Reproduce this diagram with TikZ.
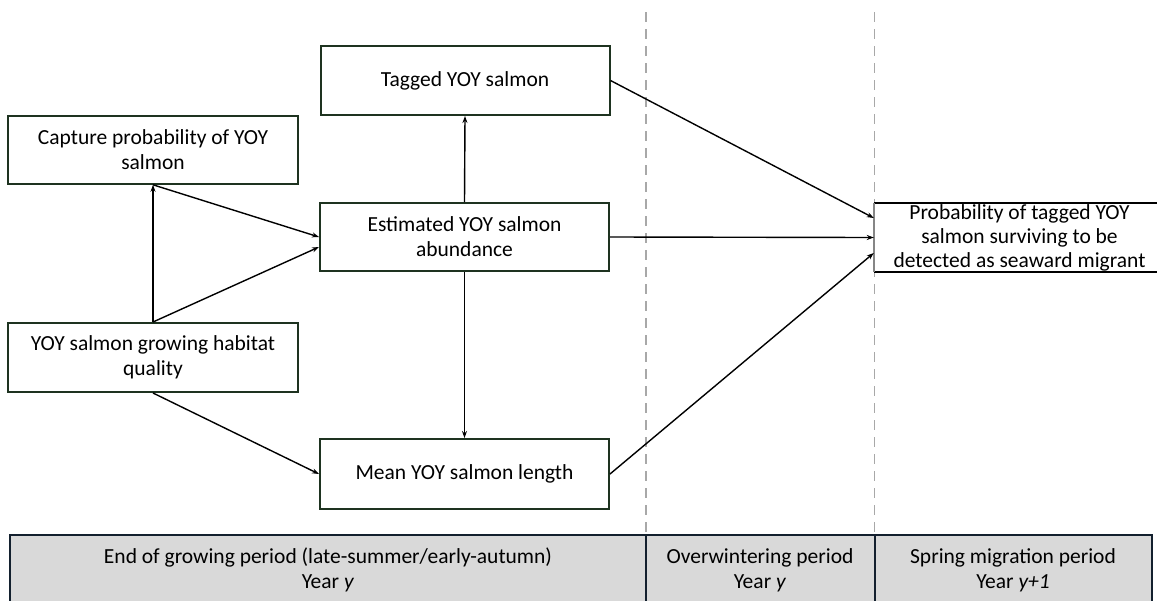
\documentclass[tikz,border=0pt]{standalone}
\usepackage{fontspec}
\setmainfont{Carlito}
\usetikzlibrary{arrows.meta}
\definecolor{boxgreen}{HTML}{1E3320}
\definecolor{bandfill}{HTML}{D9D9D9}
\definecolor{bandline}{HTML}{13202E}
\definecolor{dashgray}{HTML}{A8A8A8}
\begin{document}
\begin{tikzpicture}[x=1pt,y=-1pt,
  every node/.style={font=\fontsize{21.5}{25}\selectfont, inner sep=0pt},
  varbox/.style={draw=boxgreen, line width=2pt, minimum height=69pt, minimum width=289pt, align=center, fill=white},
  conn/.style={line width=1.4pt, -{Stealth[length=7pt,width=5pt]}},
  period/.style={dashgray, line width=1.6pt, dash pattern=on 10pt off 7pt},
  bandtext/.style={align=center}
]
\useasboundingbox (0,0) rectangle (1157,600);
% period dividers
\draw[period] (646,12) -- (646,535);
\draw[period] (874.5,12) -- (874.5,535);
% boxes
\node[varbox] (tagged) at (465,80.5) {Tagged YOY salmon};
\node[varbox, line width=1.6pt, minimum width=290pt, minimum height=68pt] (capture) at (153,150) {Capture probability of YOY\\salmon};
\node[varbox, minimum height=68pt] (est) at (464.5,237) {Estimated YOY salmon\\abundance};
\node[varbox, minimum width=290pt] (hab) at (153,357.5) {YOY salmon growing habitat\\quality};
\node[varbox, minimum height=70pt] (mean) at (464.5,474) {Mean YOY salmon length};
\node[minimum width=291pt, minimum height=69pt, align=center, fill=white, font=\fontsize{21.5}{24}\selectfont] (prob) at (1019.5,237.5) {Probability of tagged YOY\\salmon surviving to be\\detected as seaward migrant};
\draw[black, line width=2pt] (prob.north west) -- (prob.north east);
\draw[black, line width=2pt] (prob.south west) -- (prob.south east);
\draw[dashgray!80!black, line width=1.8pt] (prob.north west) -- (prob.south west);
% connectors
\draw[conn] (hab.north) -- (capture.south);
\draw[conn] (capture.south) -- (est.west);
\draw[conn] (hab.north) -- ([yshift=-10pt]est.west);
\draw[conn] (est.north) -- (tagged.south);
\draw[conn] (est.south) -- (mean.north);
\draw[conn] (hab.south) -- (mean.west);
\draw[conn] (tagged.east) -- ([yshift=19.5pt]prob.west);
\draw[conn] (est.east) -- (prob.west);
\draw[conn] (mean.east) -- ([yshift=-15.5pt]prob.west);
% timeline band
\draw[fill=bandfill, draw=bandline, line width=2pt] (10,535) rectangle (1152,615);
\draw[bandline, line width=2pt] (646,535) -- (646,615);
\draw[bandline, line width=2pt] (874.5,535) -- (874.5,615);
\node[bandtext] (p1) at (328,570) {End of growing period (late-summer/early-autumn)\\Year \textit{y}};
\node[bandtext] (p2) at (760,570) {Overwintering period\\Year \textit{y}};
\node[bandtext] (p3) at (1013,570) {Spring migration period\\Year \textit{y+1}};
\end{tikzpicture}
\end{document}
